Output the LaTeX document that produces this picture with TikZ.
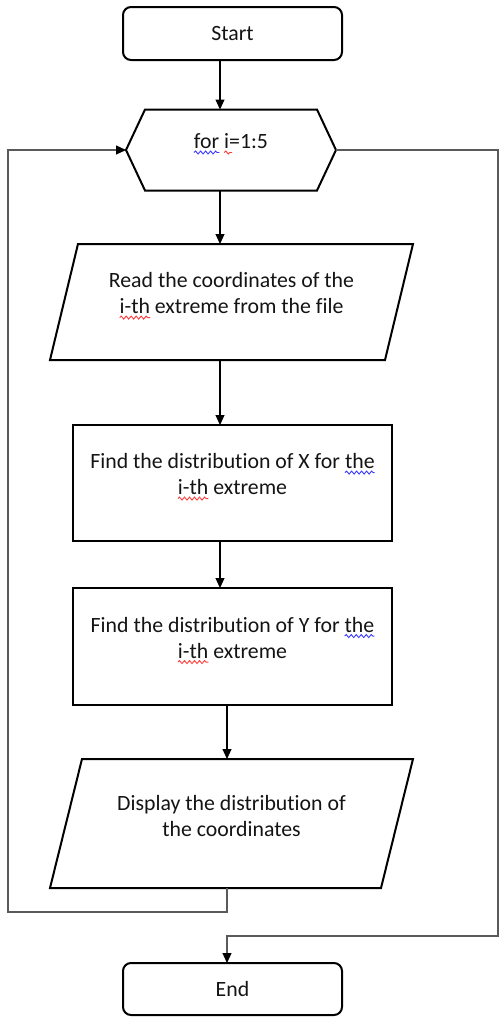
\documentclass[tikz,border=0pt]{standalone}
\usepackage{fontspec}
\setmainfont{Carlito}[Ligatures=CommonOff]
\usetikzlibrary{arrows.meta,calc,decorations.pathmorphing}
\definecolor{ink}{HTML}{141414}
\definecolor{loopc}{HTML}{5A5A5A}
\definecolor{wblue}{HTML}{3B3BFF}
\definecolor{wred}{HTML}{FF3B3B}
\newsavebox\wvbox
\newlength\wvlen
\newcommand\wv[3][0pt]{\sbox\wvbox{#3}\setlength\wvlen{\wd\wvbox}\addtolength\wvlen{#1}\rlap{\raisebox{-4pt}{\tikz[overlay]\draw[#2,line width=0.9pt,decorate,decoration={snake,amplitude=1.5pt,segment length=5pt}] (0pt,0pt) -- (\wvlen,0pt);}}\usebox\wvbox}
\tikzset{
 blk/.style={inner sep=0pt,outer sep=0pt},
 outline/.style={draw=black,line width=2pt,line join=miter},
 term/.style={blk,outline,rounded corners=8pt,minimum width=219pt,minimum height=53pt},
 txt/.style={font=\fontsize{21.8}{26}\selectfont,text=ink,align=center,inner sep=0pt},
 tip/.style={-{Triangle[length=10pt,width=9pt,color=black]}},
 arr/.style={draw=black,line width=1.2pt,tip},
 lp/.style={draw=loopc,line width=1.2pt},
}
\begin{document}
\begin{tikzpicture}[x=1pt,y=-1pt]
\useasboundingbox (0,0) rectangle (499,1018);
% reference x positions of connectors
\coordinate (cA) at (220,0);
\coordinate (cC) at (227,0);
\coordinate (LL) at (8,912);
\coordinate (RR) at (498,936);
% Start
\node[term,txt] (start) at (232.5,33.5) {Start};
% loop hexagon
\node[blk,minimum width=172pt,minimum height=81pt] (hex) at (231,150) {};
\coordinate (hexL) at ([xshift=-19pt]hex.west);
\coordinate (hexR) at ([xshift=19pt]hex.east);
\draw[outline] (hexL) -- (hex.north west) -- (hex.north east) -- (hexR) -- (hex.south east) -- (hex.south west) -- cycle;
\node[txt] (hext) at ([yshift=7pt]hex.center) {\wv{wblue}{for} \wv[3pt]{wred}{i}=1:5};
% read parallelogram
\node[blk,minimum width=335pt,minimum height=116pt] (p1) at (231.5,302) {};
\draw[outline] ([xshift=14pt]p1.north west) -- ([xshift=14pt]p1.north east) -- ([xshift=-14pt]p1.south east) -- ([xshift=-14pt]p1.south west) -- cycle;
\node[txt] (p1t) at ([yshift=7pt]p1.center) {Read the coordinates of the\\\wv{wred}{i-th} extreme from the file};
% process X
\node[blk,outline,minimum width=319pt,minimum height=116pt] (r1) at (232.5,483) {};
\node[txt] (r1t) at ([yshift=7pt]r1.center) {Find the distribution of X for \wv{wblue}{the}\\\wv{wred}{i-th} extreme};
% process Y
\node[blk,outline,minimum width=319pt,minimum height=117pt] (r2) at (232.5,646.5) {};
\node[txt] (r2t) at ([yshift=7pt]r2.center) {Find the distribution of Y for \wv{wblue}{the}\\\wv{wred}{i-th} extreme};
% display parallelogram
\node[blk,minimum width=331pt,minimum height=129pt] (p2) at (231.5,823.5) {};
\draw[outline] ([xshift=16pt]p2.north west) -- ([xshift=16pt]p2.north east) -- ([xshift=-16pt]p2.south east) -- ([xshift=-16pt]p2.south west) -- cycle;
\node[txt] (p2t) at ([yshift=7pt]p2.center) {Display the distribution of\\the coordinates};
% End
\node[term,txt,minimum height=52pt] (end) at (232.5,989) {End};
% connectors
\draw[arr] (start.south -| cA) -- (hex.north -| cA);
\draw[arr] (hex.south -| cA) -- (p1.north -| cA);
\draw[arr] (p1.south -| cA) -- (r1.north -| cA);
\draw[arr] (r1.south -| cA) -- (r2.north -| cA);
\draw[arr] (r2.south -| cC) -- (p2.north -| cC);
\draw[lp,tip] (p2.south -| cC) |- (LL) |- (hexL);
\draw[lp,tip] (hexR) -| (RR) -| (end.north -| cC);
\end{tikzpicture}
\end{document}
